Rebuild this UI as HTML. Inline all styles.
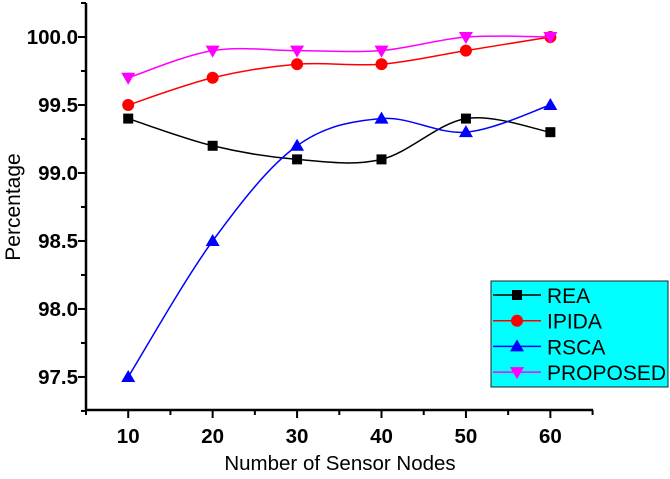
<!DOCTYPE html>
<html><head><meta charset="utf-8"><style>
body{margin:0;background:#fff}
svg text{font-family:"Liberation Sans",Arial,sans-serif}
</style></head><body>
<svg id="c" width="670" height="474" xmlns="http://www.w3.org/2000/svg"></svg>
<script>
const categories=[10,20,30,40,50,60];
const seriesNames=["REA","IPIDA","RSCA","PROPOSED"];
const reaValues=[99.4,99.2,99.1,99.1,99.4,99.3];
const ipidaValues=[99.5,99.7,99.8,99.8,99.9,100.0];
const rscaValues=[97.5,98.5,99.2,99.4,99.3,99.5];
const proposedValues=[99.7,99.9,99.9,99.9,100.0,100.0];
const yTickLabels=["97.5","98.0","98.5","99.0","99.5","100.0"];
const xTickLabels=["10","20","30","40","50","60"];
const colors=["#000","#f00","#00f","#f0f"];
const NS="http://www.w3.org/2000/svg";
const svg=document.getElementById('c');
const X0=86,X1=593,Y0=410,Y1=3;
const xmin=5,xmax=65.05,ymin=97.257,ymax=100.25;
const xs=v=>X0+(v-xmin)/(xmax-xmin)*(X1-X0);
const ys=v=>Y0-(v-ymin)/(ymax-ymin)*(Y0-Y1);
function mk(t,a,p){const e=document.createElementNS(NS,t);for(const k in a)e.setAttribute(k,a[k]);(p||svg).appendChild(e);return e;}
const axes=mk('g',{});


mk('line',{x1:X0,y1:Y1,x2:X0,y2:Y0+1,stroke:'#000','stroke-width':2.5},axes);
mk('line',{x1:X0-1,y1:Y0,x2:X1,y2:Y0,stroke:'#000','stroke-width':2.5},axes);
for(let v=97.25;v<=100.26;v+=0.25){const y=ys(v);const major=Math.abs((v*2)%1)<1e-6;mk('line',{x1:X0-(major?8:5),y1:y,x2:X0,y2:y,stroke:'#000','stroke-width':2},axes);}
yTickLabels.forEach(l=>{const t=mk('text',{x:X0-8,y:ys(+l)+7,'text-anchor':'end','font-size':20.5,'font-weight':'bold'},axes);t.textContent=l;

});
for(let v=5;v<=65;v+=5){const x=xs(v);const major=v%10===0;mk('line',{x1:x,y1:Y0,x2:x,y2:Y0+(major?8:5),stroke:'#000','stroke-width':2},axes);}
xTickLabels.forEach(l=>{const t=mk('text',{x:xs(+l),y:Y0+33,'text-anchor':'middle','font-size':20.5,'font-weight':'bold'},axes);t.textContent=l;

});
const xt=mk('text',{x:340,y:470,'text-anchor':'middle','font-size':20.5});xt.textContent='Number of Sensor Nodes';


const yt=mk('text',{x:20,y:207,'text-anchor':'middle','font-size':21,transform:'rotate(-90 20 207)'});yt.textContent='Percentage';


function marker(i,x,y,p){const c=colors[i];
 if(i===0)return mk('rect',{x:x-5,y:y-5,width:10,height:10,fill:c},p);
 if(i===1)return mk('circle',{cx:x,cy:y,r:6,fill:c},p);
 if(i===2)return mk('polygon',{points:`${x},${y-7} ${x-7},${y+5} ${x+7},${y+5}`,fill:c},p);
 return mk('polygon',{points:`${x},${y+7} ${x-7},${y-5} ${x+7},${y-5}`,fill:c},p);}
function smooth(pts){let d=`M${pts[0][0]},${pts[0][1]}`;
 for(let i=0;i<pts.length-1;i++){const p0=pts[Math.max(i-1,0)],p1=pts[i],p2=pts[i+1],p3=pts[Math.min(i+2,pts.length-1)];
 d+=` C${p1[0]+(p2[0]-p0[0])/6},${p1[1]+(p2[1]-p0[1])/6} ${p2[0]-(p3[0]-p1[0])/6},${p2[1]-(p3[1]-p1[1])/6} ${p2[0]},${p2[1]}`;}return d;}
[reaValues,ipidaValues,rscaValues,proposedValues].forEach((vals,i)=>{
 const g=mk('g',{});
 
 
 const pts=vals.map((v,j)=>[xs(categories[j]),ys(v)]);
 mk('path',{d:smooth(pts),fill:'none',stroke:colors[i],'stroke-width':1.5},g);
 pts.forEach(p=>{const m=marker(i,p[0],p[1],g);
 
 });
});
const lg=mk('g',{});


mk('rect',{x:491,y:281,width:177,height:106,fill:'#0ff',stroke:'#222','stroke-width':1},lg);
seriesNames.forEach((n,i)=>{const y=295+i*25.7;
 const e=mk('g',{},lg);
 
 
 mk('line',{x1:493,y1:y,x2:541,y2:y,stroke:colors[i],'stroke-width':1.5},e);
 marker(i,517,y,e);
 const t=mk('text',{x:547,y:y+8,'font-size':21},e);t.textContent=n;});
</script>
</body></html>
